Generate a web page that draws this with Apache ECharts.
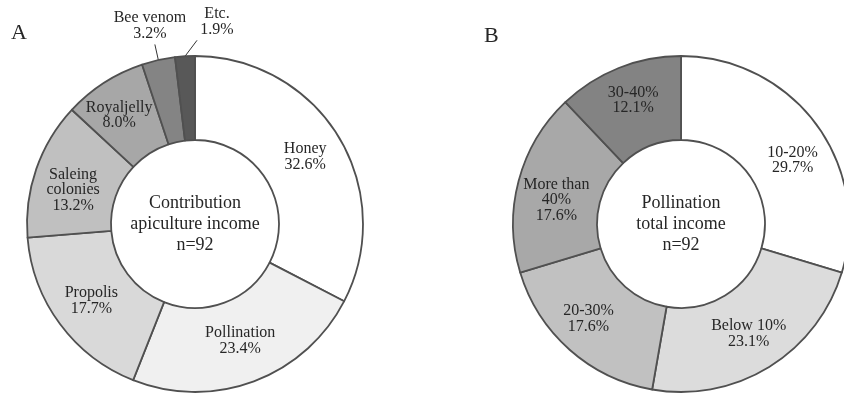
<!DOCTYPE html>
<html>
<head>
<meta charset="utf-8">
<script src="https://cdn.jsdelivr.net/npm/echarts@6/dist/echarts.min.js"></script>
<style>
  html, body { margin: 0; padding: 0; background: #ffffff; }
  #chart { width: 844px; height: 395px; }
</style>
</head>
<body>
<div id="chart"></div>
<script>
// Panel A: sources of apiculture income
const catsA = ['Honey', 'Pollination', 'Propolis', 'Saleing\ncolonies', 'Royaljelly', 'Bee venom', 'Etc.'];
const valsA = [32.6, 23.4, 17.7, 13.2, 8.0, 3.2, 1.9];
const centerTextA = ['Contribution', 'apiculture income', 'n=92'];

// Panel B: share of pollination in total income
const catsB = ['10-20%', 'Below 10%', '20-30%', 'More than\n40%', '30-40%'];
const valsB = [29.7, 23.1, 17.6, 17.6, 12.1];
const centerTextB = ['Pollination', 'total income', 'n=92'];

const panelLetters = ['A', 'B'];

// Grey fills per slice
const shadesA = ['#ffffff', '#f0f0f0', '#d9d9d9', '#c0c0c0', '#a7a7a7', '#848484', '#585858'];
const shadesB = ['#ffffff', '#dcdcdc', '#c1c1c1', '#a8a8a8', '#838383'];

// Slices whose labels sit outside the ring, with leader-line / text shifts (px)
const outsideA = { 'Bee venom': { line: 0, text: -5 }, 'Etc.': { line: 13, text: 20 } };

// Small nudges for inside labels (px)
const nudgeA = { 'Pollination': [0, -4], 'Saleing\ncolonies': [0, 8], 'Royaljelly': [-6, 0] };
const nudgeB = { '10-20%': [8, 13], '20-30%': [-7, -2], 'More than\n40%': [0, 9], '30-40%': [0, -4] };

const SERIF = '"Liberation Serif", "Times New Roman", serif';
const INK = '#262626';
const EDGE = '#505050';
const RADIUS = [84, 168];
const centerA = [195, 224];
const centerB = [681, 224];

function buildData(cats, vals, shades, outside) {
  return cats.map((name, i) => {
    const item = { name: name, value: vals[i], itemStyle: { color: shades[i] } };
    if (outside && outside[name]) {
      item.label = { position: 'outside' };
      item.labelLine = { show: true, length: 16, length2: 0, lineStyle: { color: '#333', width: 1 } };
    }
    return item;
  });
}

const labelStyle = {
  show: true,
  position: 'inside',
  fontFamily: SERIF,
  fontSize: 16,
  lineHeight: 15.5,
  color: INK,
  formatter: p => p.name + '\n' + p.value.toFixed(1) + '%'
};

function makeLayout(cats, outside, nudge) {
  return function (p) {
    const name = cats[p.dataIndex];
    const cfg = outside && outside[name];
    if (cfg && p.labelLinePoints) {
      const a = p.labelLinePoints[0];
      const b = p.labelLinePoints[1];
      const end = [b[0] + cfg.line, b[1]];
      return {
        x: end[0] + cfg.text,
        y: end[1] - 3,
        align: 'center',
        verticalAlign: 'bottom',
        labelLinePoints: [a, end]
      };
    }
    const n = nudge[name];
    return n ? { dx: n[0], dy: n[1] } : {};
  };
}

function centerText(center, lines) {
  return {
    type: 'text',
    x: center[0],
    y: center[1],
    silent: true,
    style: {
      text: lines.join('\n'),
      font: '18px ' + SERIF,
      fill: INK,
      align: 'center',
      verticalAlign: 'middle',
      textAlign: 'center',
      textVerticalAlign: 'middle',
      lineHeight: 21
    }
  };
}

function letter(x, y, t) {
  return {
    type: 'text',
    x: x,
    y: y,
    silent: true,
    style: {
      text: t,
      font: '22px ' + SERIF,
      fill: INK,
      align: 'left',
      verticalAlign: 'middle',
      textAlign: 'left',
      textVerticalAlign: 'middle'
    }
  };
}

function ring(center, cats, vals, shades, outside, nudge) {
  return {
    type: 'pie',
    center: center,
    radius: RADIUS,
    startAngle: 90,
    clockwise: true,
    avoidLabelOverlap: false,
    silent: true,
    itemStyle: { borderColor: EDGE, borderWidth: 1.8 },
    label: labelStyle,
    labelLine: { show: false },
    labelLayout: makeLayout(cats, outside, nudge),
    data: buildData(cats, vals, shades, outside)
  };
}

const chart = echarts.init(document.getElementById('chart'), null, { renderer: 'canvas' });

chart.setOption({
  animation: false,
  backgroundColor: '#ffffff',
  graphic: [
    letter(11, 33, panelLetters[0]),
    letter(484, 36, panelLetters[1]),
    centerText(centerA, centerTextA),
    centerText(centerB, centerTextB)
  ],
  series: [
    ring(centerA, catsA, valsA, shadesA, outsideA, nudgeA),
    ring(centerB, catsB, valsB, shadesB, null, nudgeB)
  ]
});
</script>
</body>
</html>
